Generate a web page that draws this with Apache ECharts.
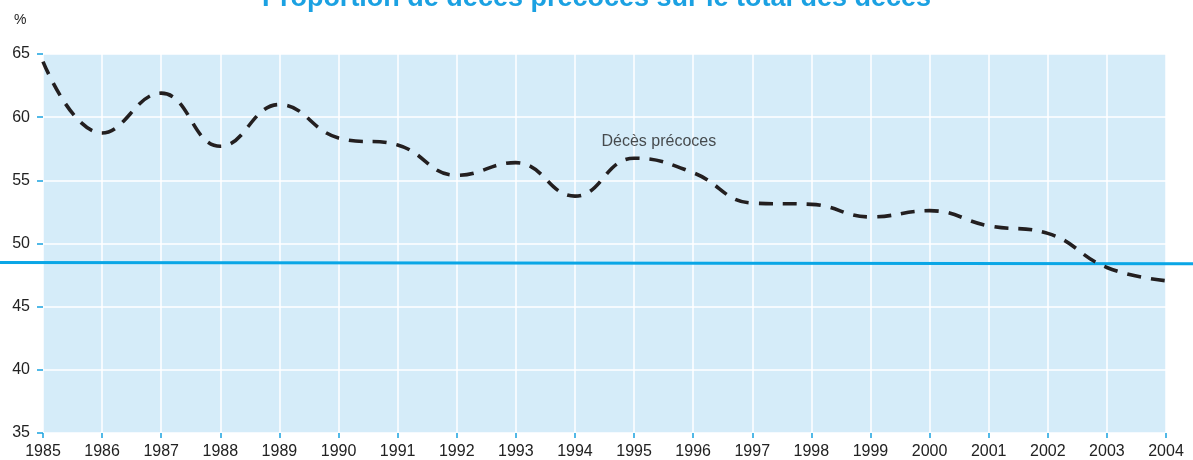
<!DOCTYPE html>
<html>
<head>
<meta charset="utf-8">
<script src="https://cdn.jsdelivr.net/npm/echarts@6/dist/echarts.min.js"></script>
<style>
  html, body { margin: 0; padding: 0; background: #fff; }
  #chart { width: 1193px; height: 460px; }
</style>
</head>
<body>
<div id="chart"></div>
<script>
const years = [1985, 1986, 1987, 1988, 1989, 1990, 1991, 1992, 1993, 1994,
  1995, 1996, 1997, 1998, 1999, 2000, 2001, 2002, 2003, 2004];
const precoces = [64.4, 58.75, 61.9, 57.7, 61.0, 58.35, 57.8, 55.4, 56.4, 53.75,
  56.75, 55.6, 53.2, 53.1, 52.1, 52.6, 51.4, 50.8, 48.1, 47.05];
// ligne de référence bleue, sur toute la largeur (axe caché 0..1)
const refX = [0, 1];
const refY = [48.5, 48.4];
const labelPos = [1995.42, 58.1];
const yTicks = [35, 40, 45, 50, 55, 60, 65];

const chart = echarts.init(document.getElementById("chart"));
const option = {
  animation: false,
  title: {
    text: "Proportion de décès précoces sur le total des décès",
    left: "center",
    top: -20,
    textStyle: {
      color: "#1ba1e2",
      fontFamily: "Liberation Sans",
      fontSize: 27,
      fontWeight: "bold",
    },
  },
  grid: [
    { left: 43, right: 27, top: 54, bottom: 27, backgroundColor: "#d5ecf9", show: true, borderWidth: 0 },
    { left: 0, right: 0, top: 54, bottom: 27, show: false },
  ],
  graphic: [
    { type: "text", left: 14, top: 13, style: { text: "%", fontSize: 14, fill: "#222", fontFamily: "Liberation Sans" } },
  ],
  xAxis: [
    {
      type: "value",
      gridIndex: 0,
      min: years[0],
      max: years[years.length - 1],
      interval: 1,
      axisLine: { show: false },
      axisTick: { show: true, length: 5, lineStyle: { color: "#1aa3e0", width: 1.5 } },
      axisLabel: {
        color: "#222",
        fontSize: 16,
        fontFamily: "Liberation Sans",
        margin: 11,
        formatter: (v) => String(v),
      },
      splitLine: { show: true, lineStyle: { color: "#ffffff", width: 1.5 } },
    },
    { type: "value", gridIndex: 1, min: 0, max: 1, show: false },
  ],
  yAxis: [
    {
      type: "value",
      gridIndex: 0,
      min: yTicks[0],
      max: yTicks[yTicks.length - 1],
      interval: 5,
      axisLine: { show: false },
      axisTick: { show: true, length: 6, lineStyle: { color: "#1aa3e0", width: 1.5 } },
      axisLabel: { color: "#222", fontSize: 16, fontFamily: "Liberation Sans", margin: 13 },
      splitLine: { show: true, lineStyle: { color: "#ffffff", width: 1.5 } },
    },
    { type: "value", gridIndex: 1, min: yTicks[0], max: yTicks[yTicks.length - 1], show: false },
  ],
  series: [
    {
      type: "line",
      xAxisIndex: 1,
      yAxisIndex: 1,
      data: refX.map((x, i) => [x, refY[i]]),
      symbol: "none",
      lineStyle: { color: "#0aa6e6", width: 3 },
      z: 3,
    },
    {
      type: "line",
      name: "Décès précoces",
      data: years.map((y, i) => [y, precoces[i]]),
      smooth: 0.45,
      symbol: "none",
      lineStyle: { color: "#231f20", width: 3.6, type: [14, 10] },
      z: 4,
    },
    {
      type: "scatter",
      data: [labelPos],
      symbolSize: 1,
      itemStyle: { color: "rgba(0,0,0,0)" },
      label: {
        show: true,
        position: "inside",
        color: "#222",
        fontSize: 16,
        fontFamily: "Liberation Sans",
        formatter: "Décès précoces",
      },
      z: 5,
    },
  ],
};
chart.setOption(option);
</script>
</body>
</html>
